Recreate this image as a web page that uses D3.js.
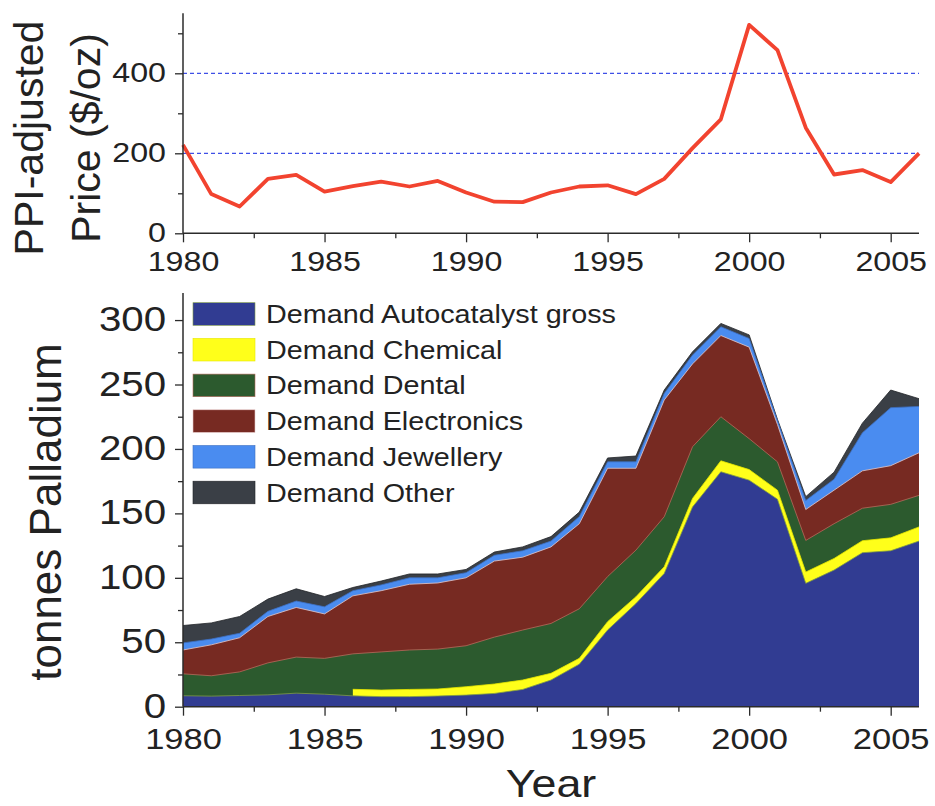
<!DOCTYPE html>
<html>
<head>
<meta charset="utf-8">
<script src="https://cdn.jsdelivr.net/npm/d3@7/dist/d3.min.js"></script>
<style>
  html, body { margin: 0; padding: 0; background: #fff; }
  svg { display: block; font-family: "Liberation Sans", Arial, sans-serif; }
</style>
</head>
<body>
<svg id="chart" width="935" height="806"></svg>
<script>
// ---------------- DATA ----------------
const years = [1980,1981,1982,1983,1984,1985,1986,1987,1988,1989,1990,1991,1992,1993,1994,1995,1996,1997,1998,1999,2000,2001,2002,2003,2004,2005,2006];

// PPI-adjusted price ($/oz)
const price = [221,98,67,136,146,104,118,129,117,131,102,79,78,102,117,120,98,136,213,285,521,458,264,147,158,128,200];

// Demand by application (tonnes)
const autocatalyst = [8.5,8.2,8.7,9.2,10.5,9.7,8.4,7.8,7.8,8.3,9.0,10.3,13.4,20.7,33,59.5,80,103.4,155,182.3,175.8,161,95.7,106,119.5,121,128.5];
const chemical     = [null,null,null,null,null,null,5.1,5.1,5.6,5.4,6.5,7.3,7.3,5.2,4.5,6.5,5.3,5.2,6.6,8.5,8.2,7,8.8,9,9.3,10,11];
const dental       = [17,15.8,18.3,24.8,28,27.8,27.5,29.6,30.6,31,31.8,36.4,38.8,38.7,38.5,35,36.2,38.8,40.1,34.2,24,22,24.5,27,25.2,26,24.5];
const electronics  = [18.5,24,26.5,36,38.5,34.5,45,47.5,51,51.3,52.7,59,56.5,59.4,66,84,63.5,90.6,64.3,63,71,29,24,26,29,30,33];
const jewellery    = [5.5,4.5,3.5,4,5,5.5,4,4.5,5,4,4,4.5,5,4.5,5.5,5,5,5,6.8,6.8,6.7,3,7,8.5,29.5,45,36];
const other        = [13.5,12.5,13,9.5,9.5,8,2.5,3,3,3,2.5,2.5,3,3.5,3.5,3,4.5,2.7,2.6,2.6,2.8,1,3,5.5,7.5,13.7,6];

const seriesNames = ["Demand Autocatalyst gross","Demand Chemical","Demand Dental","Demand Electronics","Demand Jewellery","Demand Other"];
const seriesColors = ["#313c92","#ffff1a","#2c5a2e","#772a22","#4a8cf0","#3a3f46"];
const seriesEdge   = ["#7f9a45","#e6e600","#b76a5c","#e6c8c8","#3d6fc0","#202226"];

const priceTicks = [0,200,400];
const priceMinor = [100,300,500];
const tonneTicks = [0,50,100,150,200,250,300];
const tonneMinor = [25,75,125,175,225,275];
const yearTicks  = [1980,1985,1990,1995,2000,2005];
const yearMinor  = [1982.5,1987.5,1992.5,1997.5,2002.5];

// ---------------- LAYOUT ----------------
const svg = d3.select("#chart");
const X0 = 183, X1 = 919;
const x = d3.scaleLinear().domain([1980, 2006]).range([X0, X1]);
const yP = d3.scaleLinear().domain([0, 550]).range([233.3, 13.3]);
const yT = d3.scaleLinear().domain([0, 321]).range([706.7, 293]);

const axisColor = "#2b2b2b";
const SX = 1.15; // horizontal text stretch

function styleAxis(g, fs) {
  g.select(".domain").remove();
  g.selectAll(".tick line").attr("stroke", axisColor).attr("stroke-width", 1.3);
  g.selectAll(".tick text")
    .attr("fill", "#222")
    .attr("font-size", fs + "px")
    .attr("font-family", "'Liberation Sans', Arial, sans-serif");
}

// ---------------- TOP: PRICE ----------------
const gTop = svg.append("g");

gTop.selectAll("line.grid").data([200, 400]).join("line")
  .attr("class", "grid")
  .attr("x1", X0).attr("x2", X1)
  .attr("y1", d => yP(d)).attr("y2", d => yP(d))
  .attr("stroke", "#3f4fe6").attr("stroke-width", 1.2)
  .attr("stroke-dasharray", "4,3");

gTop.append("path")
  .datum(years.map((yr, i) => [yr, price[i]]))
  .attr("fill", "none")
  .attr("stroke", "#f2432f")
  .attr("stroke-width", 3.8)
  .attr("stroke-linejoin", "round")
  .attr("d", d3.line().x(d => x(d[0])).y(d => yP(d[1])));

const topY = gTop.append("g").attr("transform", `translate(${X0},0)`)
  .call(d3.axisLeft(yP).tickValues(priceTicks).tickSize(8).tickPadding(9).tickFormat(d3.format("d")));
styleAxis(topY, 28);
topY.selectAll(".tick text").attr("transform", `scale(${SX},1)`).attr("x", -17 / SX).attr("dy", "0.3em");
gTop.append("g").attr("transform", `translate(${X0},0)`)
  .call(d3.axisLeft(yP).tickValues(priceMinor).tickSize(5).tickFormat(""))
  .call(g => styleAxis(g, 10));

const topX = gTop.append("g").attr("transform", `translate(0,${yP(0)})`)
  .call(d3.axisBottom(x).tickValues(yearTicks).tickSize(9).tickPadding(3).tickFormat(d3.format("d")));
styleAxis(topX, 28);
topX.selectAll(".tick text").attr("transform", `scale(${SX},1)`).attr("dy", "0.92em");
gTop.append("g").attr("transform", `translate(0,${yP(0)})`)
  .call(d3.axisBottom(x).tickValues(yearMinor).tickSize(5).tickFormat(""))
  .call(g => styleAxis(g, 10));

gTop.append("line").attr("x1", X0).attr("x2", X0).attr("y1", 13.3).attr("y2", yP(0))
  .attr("stroke", axisColor).attr("stroke-width", 1.5);
gTop.append("line").attr("x1", X0).attr("x2", X1).attr("y1", yP(0)).attr("y2", yP(0))
  .attr("stroke", axisColor).attr("stroke-width", 1.5);

gTop.append("text").attr("transform", "translate(43,138) rotate(-90)")
  .attr("text-anchor", "middle").attr("font-size", "41px").attr("fill", "#222")
  .text("PPI-adjusted");
gTop.append("text").attr("transform", "translate(100,138) rotate(-90)")
  .attr("text-anchor", "middle").attr("font-size", "41px").attr("fill", "#222")
  .text("Price ($/oz)");

// ---------------- BOTTOM: DEMAND ----------------
const gBot = svg.append("g");
const layers = [autocatalyst, chemical, dental, electronics, jewellery, other];

const cum = layers.map(() => []);
years.forEach((yr, i) => {
  let s = 0;
  layers.forEach((arr, k) => {
    s += (arr[i] == null ? 0 : arr[i]);
    cum[k].push({ year: yr, top: s, defined: arr[i] != null });
  });
});

for (let k = layers.length - 1; k >= 0; k--) {
  const data = cum[k];
  gBot.append("path")
    .datum(data)
    .attr("fill", seriesColors[k])
    .attr("d", d3.area().defined(d => d.defined)
      .x(d => x(d.year)).y0(yT(0)).y1(d => yT(d.top)));
  gBot.append("path")
    .datum(data)
    .attr("fill", "none")
    .attr("stroke", seriesEdge[k])
    .attr("stroke-width", 0.8)
    .attr("d", d3.line().defined(d => d.defined)
      .x(d => x(d.year)).y(d => yT(d.top)));
}

const botY = gBot.append("g").attr("transform", `translate(${X0},0)`)
  .call(d3.axisLeft(yT).tickValues(tonneTicks).tickSize(8).tickPadding(9).tickFormat(d3.format("d")));
styleAxis(botY, 35);
botY.selectAll(".tick text").attr("transform", `scale(${SX},1)`).attr("x", -17 / SX).attr("dy", "0.3em");
gBot.append("g").attr("transform", `translate(${X0},0)`)
  .call(d3.axisLeft(yT).tickValues(tonneMinor).tickSize(5).tickFormat(""))
  .call(g => styleAxis(g, 10));

const botX = gBot.append("g").attr("transform", `translate(0,${yT(0)})`)
  .call(d3.axisBottom(x).tickValues(yearTicks).tickSize(9).tickPadding(6).tickFormat(d3.format("d")));
styleAxis(botX, 30);
botX.selectAll(".tick text").attr("transform", `scale(${SX},1)`).attr("dy", "0.9em");
gBot.append("g").attr("transform", `translate(0,${yT(0)})`)
  .call(d3.axisBottom(x).tickValues(yearMinor).tickSize(5).tickFormat(""))
  .call(g => styleAxis(g, 10));

gBot.append("line").attr("x1", X0).attr("x2", X0).attr("y1", 293).attr("y2", yT(0))
  .attr("stroke", axisColor).attr("stroke-width", 1.5);
gBot.append("line").attr("x1", X0).attr("x2", X1).attr("y1", yT(0)).attr("y2", yT(0))
  .attr("stroke", axisColor).attr("stroke-width", 1.5);

gBot.append("text").attr("transform", "translate(61,512) rotate(-90)")
  .attr("text-anchor", "middle").attr("font-size", "44px").attr("fill", "#222")
  .text("tonnes Palladium");
gBot.append("text").attr("transform", `translate(551,797) scale(${SX},1)`)
  .attr("text-anchor", "middle").attr("font-size", "39px").attr("fill", "#222")
  .text("Year");

const legend = gBot.append("g");
seriesNames.forEach((name, k) => {
  const cy = 314 + k * 35.7;
  legend.append("rect")
    .attr("x", 193).attr("y", cy - 11.3).attr("width", 62).attr("height", 22.6)
    .attr("fill", seriesColors[k]).attr("stroke", seriesEdge[k]).attr("stroke-width", 0.6);
  legend.append("text")
    .attr("transform", `translate(266,${cy + 9}) scale(${SX},1)`)
    .attr("font-size", "25px").attr("fill", "#222")
    .text(name);
});
</script>
</body>
</html>
